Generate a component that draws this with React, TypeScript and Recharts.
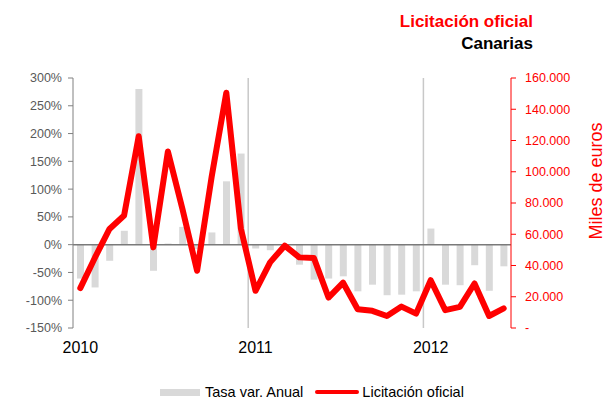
import React from "react";
import {
  ComposedChart,
  Bar,
  Line,
  XAxis,
  YAxis,
  ReferenceLine,
  Legend,
  Label,
} from "recharts";

const months = [
  "ene-10", "feb-10", "mar-10", "abr-10", "may-10", "jun-10", "jul-10", "ago-10", "sep-10", "oct-10", "nov-10", "dic-10",
  "ene-11", "feb-11", "mar-11", "abr-11", "may-11", "jun-11", "jul-11", "ago-11", "sep-11", "oct-11", "nov-11", "dic-11",
  "ene-12", "feb-12", "mar-12", "abr-12", "may-12", "jun-12",
];

// tasa de variación anual (%)
const tasaVar = [
  -61, -77, -29, 25, 280, -47, 2, 32, -8, 22, 114, 164,
  -7, -10, -2, -36, -63, -61, -57, -84, -72, -91, -90, -84,
  29, -72, -73, -37, -83, -39,
];

// licitación oficial (miles de euros)
const licitacion = [
  25500, 45000, 63400, 72000, 122700, 51600, 113000, 76000, 36600, 97000, 150600, 63600,
  23800, 42000, 52700, 45200, 44800, 19500, 29000, 12000, 11000, 7700, 13700, 9200,
  30600, 11400, 13500, 28500, 7700, 12600,
];

const yearTicks = ["ene-10", "ene-11", "ene-12"];
const leftTicks = [-150, -100, -50, 0, 50, 100, 150, 200, 250, 300];
const rightTicks = [0, 20000, 40000, 60000, 80000, 100000, 120000, 140000, 160000];

const data = months.map((m, i) => ({ mes: m, tasa: tasaVar[i], lic: licitacion[i] }));

const FONT = "'Liberation Sans', Arial, sans-serif";
const RED = "#ff0000";

const fmtEuros = (v: number) => (v === 0 ? "-" : v.toLocaleString("de-DE"));

function LegendBox() {
  return (
    <div style={{ display: "flex", alignItems: "center", paddingLeft: 160, fontFamily: FONT, fontSize: 14.5, color: "#000" }}>
      <span style={{ display: "inline-block", width: 40, height: 7, background: "#d9d9d9", marginRight: 5 }} />
      <span style={{ marginRight: 12 }}>Tasa var. Anual</span>
      <span style={{ display: "inline-block", width: 44, height: 4, borderRadius: 2, background: RED, marginRight: 3 }} />
      <span>Licitación oficial</span>
    </div>
  );
}

export default function App() {
  return (
    <div style={{ position: "absolute", left: 0, top: 0, width: 605, height: 407, background: "#fff", fontFamily: FONT }}>
      <div style={{ position: "absolute", right: 72, top: 12, fontSize: 17, fontWeight: "bold", color: RED }}>
        Licitación oficial
      </div>
      <div style={{ position: "absolute", right: 72, top: 34, fontSize: 17, fontWeight: "bold", color: "#000" }}>
        Canarias
      </div>
      <ComposedChart
        width={605}
        height={407}
        data={data}
        margin={{ top: 78, right: 0, left: 0, bottom: 0 }}
        barGap={0}
      >
        <XAxis
          dataKey="mes"
          ticks={yearTicks}
          interval={0}
          tickFormatter={(v: string) => "20" + v.slice(-2)}
          axisLine={false}
          tickLine={false}
          tickMargin={8}
          height={63}
          tick={{ fontSize: 16, fill: "#000", fontFamily: FONT }}
        />
        <YAxis
          yAxisId="left"
          width={73}
          domain={[-150, 300]}
          ticks={leftTicks}
          tickFormatter={(v: number) => `${v}%`}
          stroke="#808080"
          tickSize={5}
          tickMargin={6}
          tick={{ fontSize: 12.5, fill: "#595959", fontFamily: FONT }}
        />
        <YAxis
          yAxisId="right"
          orientation="right"
          width={94}
          domain={[0, 160000]}
          ticks={rightTicks}
          tickFormatter={fmtEuros}
          stroke={RED}
          tickSize={5}
          tickMargin={9}
          tick={{ fontSize: 12.5, fill: RED, fontFamily: FONT }}
        >
          <Label
            content={({ viewBox }: any) => {
              const cx = viewBox.x + viewBox.width - 3;
              const cy = 181;
              return (
                <text
                  x={cx}
                  y={cy}
                  transform={`rotate(-90, ${cx}, ${cy})`}
                  textAnchor="middle"
                  fill={RED}
                  fontSize={18}
                  fontFamily={FONT}
                >
                  Miles de euros
                </text>
              );
            }}
          />
        </YAxis>
        <ReferenceLine yAxisId="left" x="ene-11" position="start" stroke="#c8c8c8" strokeWidth={1.5} />
        <ReferenceLine yAxisId="left" x="ene-12" position="start" stroke="#c8c8c8" strokeWidth={1.5} />
        <Bar
          yAxisId="left"
          dataKey="tasa"
          name="Tasa var. Anual"
          fill="#d9d9d9"
          barSize={7}
          isAnimationActive={false}
        />
        <ReferenceLine yAxisId="left" y={0} stroke="#7a7a7a" strokeWidth={1.5} />
        <Line
          yAxisId="right"
          dataKey="lic"
          name="Licitación oficial"
          type="linear"
          stroke={RED}
          strokeWidth={6}
          strokeLinejoin="round"
          strokeLinecap="round"
          dot={false}
          isAnimationActive={false}
        />
        <Legend
          content={() => <LegendBox />}
          wrapperStyle={{ position: "absolute", top: 384, left: 0, width: 605 }}
        />
      </ComposedChart>
    </div>
  );
}
